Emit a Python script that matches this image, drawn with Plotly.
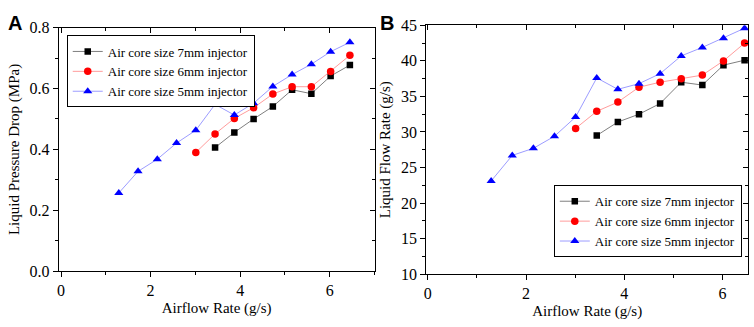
import plotly.graph_objects as go

# Data
air_flow = [1.29, 1.72, 2.15, 2.58, 3.01, 3.44, 3.87, 4.30, 4.73, 5.16, 5.59, 6.02, 6.45]

# Panel A: liquid pressure drop (MPa)
dp_7mm_x = air_flow[5:]
dp_7mm = [0.406, 0.456, 0.500, 0.541, 0.596, 0.583, 0.641, 0.677]
dp_6mm_x = air_flow[4:]
dp_6mm = [0.390, 0.451, 0.502, 0.537, 0.582, 0.606, 0.606, 0.656, 0.709]
dp_5mm_x = air_flow
dp_5mm = [0.257, 0.328, 0.368, 0.421, 0.463, 0.548, 0.513, 0.552, 0.607, 0.646, 0.680, 0.721, 0.752]

# Panel B: liquid flow rate (g/s)
lf_7mm_x = air_flow[5:]
lf_7mm = [29.5, 31.4, 32.5, 34.0, 37.0, 36.6, 39.4, 40.1]
lf_6mm_x = air_flow[4:]
lf_6mm = [30.5, 32.9, 34.2, 36.3, 37.0, 37.5, 38.0, 40.0, 42.5]
lf_5mm_x = air_flow
lf_5mm = [23.1, 26.7, 27.7, 29.4, 32.1, 37.6, 36.0, 36.8, 38.2, 40.7, 41.9, 43.2, 44.6]

names = ["Air core size 7mm injector", "Air core size 6mm injector", "Air core size 5mm injector"]
marker_colors = ["#000000", "#ff0000", "#0000ff"]
line_colors = ["#7f7f7f", "#ff9c9c", "#9c9cff"]
symbols = ["square", "circle", "triangle-up"]
msizes = [6.5, 7.5, 8]

serif = "Liberation Serif, Times New Roman, serif"

fig = go.Figure()

seriesA = [(dp_7mm_x, dp_7mm), (dp_6mm_x, dp_6mm), (dp_5mm_x, dp_5mm)]
seriesB = [(lf_7mm_x, lf_7mm), (lf_6mm_x, lf_6mm), (lf_5mm_x, lf_5mm)]

for i, (xs, ys) in enumerate(seriesA):
    fig.add_trace(go.Scatter(
        x=xs, y=ys, mode="lines+markers", name=names[i],
        line=dict(color=line_colors[i], width=1),
        marker=dict(color=marker_colors[i], symbol=symbols[i], size=msizes[i]),
        xaxis="x", yaxis="y", legend="legend"))

for i, (xs, ys) in enumerate(seriesB):
    fig.add_trace(go.Scatter(
        x=xs, y=ys, mode="lines+markers", name=names[i],
        line=dict(color=line_colors[i], width=1),
        marker=dict(color=marker_colors[i], symbol=symbols[i], size=msizes[i]),
        xaxis="x2", yaxis="y2", legend="legend2"))

# empty traces to activate mirrored (inside-tick) axes
fig.add_trace(go.Scatter(x=[], y=[], xaxis="x3", yaxis="y3", showlegend=False, hoverinfo="skip"))
fig.add_trace(go.Scatter(x=[], y=[], xaxis="x4", yaxis="y4", showlegend=False, hoverinfo="skip"))

W, H = 754, 327
axA_x = [56 / W, 373 / W]
axA_y = [1 - 277.7 / H, 1 - 20.7 / H]
axB_x = [425 / W, 748 / W]
axB_y = [1 - 280.7 / H, 1 - 18.3 / H]

rA_x, rA_y = [-0.05, 7.0], [0, 0.8]
rB_x, rB_y = [-0.03, 6.52], [10, 45]

tickfont = dict(family=serif, size=16, color="#000")
titlefont = dict(family=serif, size=15, color="#000")

common = dict(showline=True, linecolor="#000", linewidth=1,
              ticks="outside", ticklen=5, tickcolor="#000", showgrid=False,
              zeroline=False, tickfont=tickfont)
mirror = dict(showline=True, linecolor="#000", linewidth=1, ticks="inside", ticklen=5,
              tickcolor="#000", showgrid=False, zeroline=False, showticklabels=False)

fig.update_layout(
    width=W, height=H,
    margin=dict(l=0, r=0, t=0, b=0),
    paper_bgcolor="white", plot_bgcolor="white",
    showlegend=True,
    xaxis=dict(domain=axA_x, anchor="y", range=rA_x, dtick=2,
               minor=dict(dtick=1, ticks="outside", ticklen=3, tickcolor="#000"),
               title=dict(text="Airflow Rate (g/s)", font=titlefont, standoff=4), **common),
    yaxis=dict(domain=axA_y, anchor="x", range=rA_y, dtick=0.2, tickformat=".1f",
               minor=dict(dtick=0.1, ticks="outside", ticklen=3, tickcolor="#000"),
               title=dict(text="Liquid Pressure Drop (MPa)", font=titlefont, standoff=6), **common),
    xaxis3=dict(domain=axA_x, anchor="y3", overlaying="x", side="top", range=rA_x, dtick=2,
                minor=dict(dtick=1, ticks="inside", ticklen=3, tickcolor="#000"), **mirror),
    yaxis3=dict(domain=axA_y, anchor="x3", overlaying="y", side="right", range=rA_y, dtick=0.2,
                minor=dict(dtick=0.1, ticks="inside", ticklen=3, tickcolor="#000"), **mirror),
    xaxis2=dict(domain=axB_x, anchor="y2", range=rB_x, dtick=2,
                minor=dict(dtick=1, ticks="outside", ticklen=3, tickcolor="#000"),
                title=dict(text="Airflow Rate (g/s)", font=titlefont, standoff=4), **common),
    yaxis2=dict(domain=axB_y, anchor="x2", range=rB_y, dtick=5,
                minor=dict(dtick=2.5, ticks="outside", ticklen=3, tickcolor="#000"),
                title=dict(text="Liquid Flow Rate (g/s)", font=titlefont, standoff=6), **common),
    xaxis4=dict(domain=axB_x, anchor="y4", overlaying="x2", side="top", range=rB_x, dtick=2,
                minor=dict(dtick=1, ticks="inside", ticklen=3, tickcolor="#000"), **mirror),
    yaxis4=dict(domain=axB_y, anchor="x4", overlaying="y2", side="right", range=rB_y, dtick=5,
                minor=dict(dtick=2.5, ticks="inside", ticklen=3, tickcolor="#000"), **mirror),
    legend=dict(x=64 / W, y=1 - 29 / H, xanchor="left", yanchor="top",
                bgcolor="white", bordercolor="#000", borderwidth=1,
                font=dict(family=serif, size=13, color="#000"),
                tracegroupgap=0, itemwidth=30),
    legend2=dict(x=553 / W, y=1 - 187 / H, xanchor="left", yanchor="top",
                 bgcolor="white", bordercolor="#000", borderwidth=1,
                 font=dict(family=serif, size=13, color="#000"),
                 tracegroupgap=0, itemwidth=30),
    annotations=[
        dict(text="<b>A</b>", x=3 / W, y=1 - 2 / H, xref="paper", yref="paper",
             xanchor="left", yanchor="top", showarrow=False,
             font=dict(family="Liberation Sans, Arial, sans-serif", size=20, color="#000")),
        dict(text="<b>B</b>", x=376 / W, y=1 - 2 / H, xref="paper", yref="paper",
             xanchor="left", yanchor="top", showarrow=False,
             font=dict(family="Liberation Sans, Arial, sans-serif", size=20, color="#000")),
    ],
)

fig.write_html("out.html", config={"displayModeBar": False},
               post_script="document.body.style.margin='0';document.body.style.overflow='hidden';")
